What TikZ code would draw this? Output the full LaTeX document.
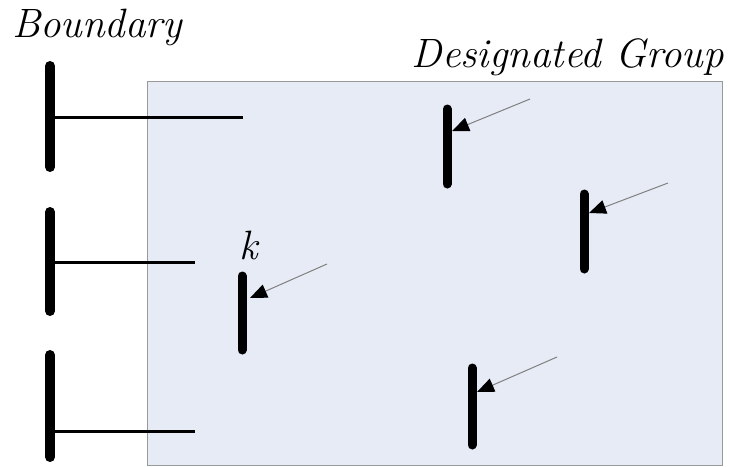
\documentclass[tikz,border=0pt]{standalone}
\usetikzlibrary{arrows.meta}
\definecolor{groupbg}{RGB}{230,235,246}
\tikzset{
  bigtext/.style={font=\fontsize{41}{48}\selectfont\itshape, inner sep=0pt},
  bndbar/.style={line width=10pt, line cap=round},
  elembar/.style={line width=9pt, line cap=round},
  bndline/.style={line width=3pt},
  ray/.style={draw=gray, line width=1pt, -{Triangle[color=black, length=17pt, width=14pt]}}
}
\begin{document}
\begin{tikzpicture}[x=1pt, y=-1pt]
    \useasboundingbox (0,0) rectangle (730,466);
    % designated group area
    \filldraw[fill=groupbg, draw=gray!80, line width=1pt] (147,81) rectangle (722,465);
    \node[bigtext, anchor=base west] (bnd) at (12,37) {Boundary};
    \node[bigtext, anchor=base east] (grp) at (724,67) {Designated Group};
    % boundary elements
    \draw[bndbar] (50,66) -- (50,167);
    \draw[bndline] (50,117) -- (243,117);
    \draw[bndbar] (50,212) -- (50,311);
    \draw[bndline] (50,262) -- (195,262);
    \draw[bndbar] (50,355) -- (50,457);
    \draw[bndline] (50,431) -- (195,431);
    % elements in the group
    \draw[elembar] (242,276) -- (242,350);
    \node[bigtext, anchor=base] (k) at (249,259) {k};
    \coordinate (tk) at (327,264);
    \coordinate (hk) at (250,298);
    \draw[ray] (tk) -- (hk);
    \draw[elembar] (447,109) -- (447,184);
    \coordinate (ta) at (530,99);
    \coordinate (ha) at (452,131);
    \draw[ray] (ta) -- (ha);
    \draw[elembar] (584,194) -- (584,269);
    \coordinate (tb) at (668,183);
    \coordinate (hb) at (589,213);
    \draw[ray] (tb) -- (hb);
    \draw[elembar] (472,368) -- (472,445);
    \coordinate (tc) at (557,357);
    \coordinate (hc) at (477,392);
    \draw[ray] (tc) -- (hc);
\end{tikzpicture}
\end{document}
